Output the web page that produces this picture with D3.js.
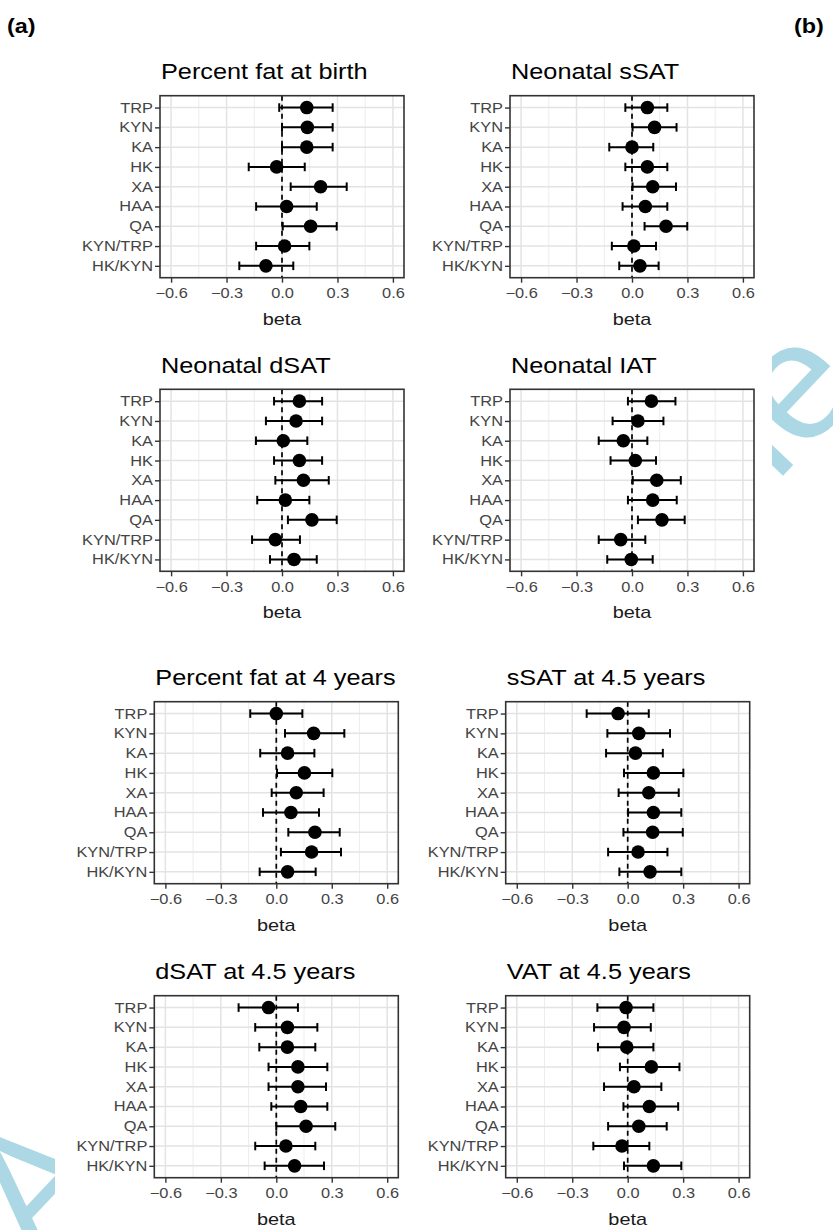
<!DOCTYPE html>
<html>
<head>
<meta charset="utf-8">
<script src="https://cdn.jsdelivr.net/npm/d3@7"></script>
<style>
  body { margin: 0; background: #fff; }
  text { font-family: "Liberation Sans", Arial, sans-serif; }
</style>
</head>
<body>
<div id="chart"></div>
<script>
var metabolites = ["TRP", "KYN", "KA", "HK", "XA", "HAA", "QA", "KYN/TRP", "HK/KYN"];
var xTicks = [-0.6, -0.3, 0, 0.3, 0.6];
var xMinor = [-0.45, -0.15, 0.15, 0.45];

var titles = ["Percent fat at birth", "Neonatal sSAT", "Neonatal dSAT", "Neonatal IAT",
              "Percent fat at 4 years", "sSAT at 4.5 years", "dSAT at 4.5 years", "VAT at 4.5 years"];

var birthEst = [0.134, 0.137, 0.134, -0.029, 0.209, 0.025, 0.155, 0.014, -0.087];
var birthLo  = [-0.015, 0.0, 0.0, -0.18, 0.047, -0.14, 0.004, -0.14, -0.231];
var birthHi  = [0.274, 0.274, 0.274, 0.123, 0.35, 0.188, 0.296, 0.148, 0.061];

var sSatEst = [0.083, 0.122, 0.0, 0.083, 0.112, 0.072, 0.184, 0.01, 0.043];
var sSatLo  = [-0.036, 0.003, -0.123, -0.036, 0.003, -0.051, 0.068, -0.109, -0.069];
var sSatHi  = [0.191, 0.241, 0.115, 0.191, 0.238, 0.191, 0.299, 0.13, 0.144];

var dSatEst = [0.094, 0.076, 0.007, 0.094, 0.116, 0.018, 0.162, -0.036, 0.065];
var dSatLo  = [-0.043, -0.087, -0.141, -0.043, -0.036, -0.134, 0.032, -0.162, -0.065];
var dSatHi  = [0.217, 0.217, 0.137, 0.217, 0.253, 0.148, 0.296, 0.097, 0.188];

var iatEst = [0.105, 0.032, -0.047, 0.018, 0.134, 0.112, 0.162, -0.061, -0.004];
var iatLo  = [-0.022, -0.105, -0.18, -0.116, 0.004, -0.022, 0.032, -0.18, -0.134];
var iatHi  = [0.235, 0.17, 0.083, 0.13, 0.264, 0.242, 0.285, 0.072, 0.112];

var fat4Est = [0.0, 0.202, 0.061, 0.152, 0.108, 0.079, 0.209, 0.191, 0.061];
var fat4Lo  = [-0.141, 0.047, -0.087, 0.004, -0.025, -0.072, 0.065, 0.025, -0.09];
var fat4Hi  = [0.141, 0.368, 0.206, 0.303, 0.256, 0.231, 0.343, 0.35, 0.213];

var sSat45Est = [-0.052, 0.06, 0.042, 0.139, 0.114, 0.139, 0.135, 0.056, 0.121];
var sSat45Lo  = [-0.222, -0.11, -0.117, -0.02, -0.049, 0.002, -0.023, -0.106, -0.045];
var sSat45Hi  = [0.114, 0.229, 0.19, 0.301, 0.276, 0.29, 0.298, 0.215, 0.29];

var dSat45Est = [-0.042, 0.06, 0.06, 0.117, 0.117, 0.132, 0.161, 0.052, 0.099];
var dSat45Lo  = [-0.204, -0.114, -0.092, -0.042, -0.042, -0.027, 0.0, -0.114, -0.063];
var dSat45Hi  = [0.117, 0.222, 0.211, 0.276, 0.269, 0.276, 0.319, 0.211, 0.258];

var vat45Est = [-0.009, -0.02, -0.005, 0.128, 0.034, 0.117, 0.06, -0.031, 0.139];
var vat45Lo  = [-0.164, -0.182, -0.161, -0.042, -0.128, -0.023, -0.106, -0.186, -0.02];
var vat45Hi  = [0.139, 0.125, 0.139, 0.28, 0.182, 0.273, 0.211, 0.117, 0.29];

var estimates = [birthEst, sSatEst, dSatEst, iatEst, fat4Est, sSat45Est, dSat45Est, vat45Est];
var lowers    = [birthLo, sSatLo, dSatLo, iatLo, fat4Lo, sSat45Lo, dSat45Lo, vat45Lo];
var uppers    = [birthHi, sSatHi, dSatHi, iatHi, fat4Hi, sSat45Hi, dSat45Hi, vat45Hi];

// panel top-left corners
var origins = [[160, 95.7], [510, 95.7], [160, 389.3], [510, 389.3],
               [154.3, 701.7], [505.7, 701.7], [154.3, 995.7], [505.7, 995.7]];

var W = 833, H = 1230;
var pw = 244, ph = 182;
var sx = 1.17; // text in the picture is wider than Arial

var svg = d3.select("#chart").append("svg")
  .attr("width", W)
  .attr("height", H);

// watermark, mostly hidden behind the figure
svg.append("text")
  .attr("transform", "translate(36,1263) rotate(-46.5)")
  .attr("font-size", 168)
  .attr("fill", "#acd8e6")
  .text("Accepted Article");

svg.append("rect")
  .attr("x", 55).attr("y", 0)
  .attr("width", 717).attr("height", H)
  .attr("fill", "#fff");

svg.append("text")
  .attr("transform", "translate(7,33) scale(" + sx + ",1)")
  .attr("font-size", 20).attr("font-weight", "bold")
  .text("(a)");

svg.append("text")
  .attr("transform", "translate(794,33) scale(" + sx + ",1)")
  .attr("font-size", 20).attr("font-weight", "bold")
  .text("(b)");

var x = d3.scaleLinear().domain([-0.66, 0.66]).range([0, pw]);
var y = d3.scalePoint().domain(metabolites).range([0, ph]).padding(0.6);

titles.forEach(function(title, p) {
  var g = svg.append("g")
    .attr("transform", "translate(" + origins[p][0] + "," + origins[p][1] + ")");

  var rows = metabolites.map(function(m, i) {
    return { name: m, est: estimates[p][i], lo: lowers[p][i], hi: uppers[p][i] };
  });

  // grid
  g.selectAll(".minor")
    .data(xMinor)
    .enter().append("line")
    .attr("x1", function(d) { return x(d); })
    .attr("x2", function(d) { return x(d); })
    .attr("y1", 0).attr("y2", ph)
    .attr("stroke", "#ebebeb").attr("stroke-width", 0.9);

  g.selectAll(".vmajor")
    .data(xTicks)
    .enter().append("line")
    .attr("x1", function(d) { return x(d); })
    .attr("x2", function(d) { return x(d); })
    .attr("y1", 0).attr("y2", ph)
    .attr("stroke", "#e3e3e3").attr("stroke-width", 1.5);

  g.selectAll(".hmajor")
    .data(metabolites)
    .enter().append("line")
    .attr("x1", 0).attr("x2", pw)
    .attr("y1", function(d) { return y(d); })
    .attr("y2", function(d) { return y(d); })
    .attr("stroke", "#e3e3e3").attr("stroke-width", 1.5);

  // reference line at zero
  g.append("line")
    .attr("x1", x(0)).attr("x2", x(0))
    .attr("y1", 0).attr("y2", ph)
    .attr("stroke", "#000").attr("stroke-width", 1.7)
    .attr("stroke-dasharray", "5,4");

  // error bars
  g.selectAll(".bar")
    .data(rows)
    .enter().append("line")
    .attr("x1", function(d) { return x(d.lo); })
    .attr("x2", function(d) { return x(d.hi); })
    .attr("y1", function(d) { return y(d.name); })
    .attr("y2", function(d) { return y(d.name); })
    .attr("stroke", "#000").attr("stroke-width", 2);

  ["lo", "hi"].forEach(function(k) {
    g.selectAll(".cap-" + k)
      .data(rows)
      .enter().append("line")
      .attr("x1", function(d) { return x(d[k]); })
      .attr("x2", function(d) { return x(d[k]); })
      .attr("y1", function(d) { return y(d.name) - 4.3; })
      .attr("y2", function(d) { return y(d.name) + 4.3; })
      .attr("stroke", "#000").attr("stroke-width", 2);
  });

  g.selectAll("circle")
    .data(rows)
    .enter().append("circle")
    .attr("cx", function(d) { return x(d.est); })
    .attr("cy", function(d) { return y(d.name); })
    .attr("r", 6.8)
    .attr("fill", "#000");

  // panel border
  g.append("rect")
    .attr("width", pw).attr("height", ph)
    .attr("fill", "none")
    .attr("stroke", "#333").attr("stroke-width", 1.6);

  // axes
  var xAxis = d3.axisBottom(x)
    .tickValues(xTicks)
    .tickSize(5)
    .tickPadding(5.7)
    .tickFormat(function(d) { return d3.format(".1f")(d).replace("-", "\u2212"); });

  var yAxis = d3.axisLeft(y).tickSize(5);

  var gx = g.append("g")
    .attr("transform", "translate(0," + ph + ")")
    .call(xAxis);

  var gy = g.append("g").call(yAxis);

  [gx, gy].forEach(function(a) {
    a.select(".domain").remove();
    a.selectAll(".tick line").attr("stroke", "#333").attr("stroke-width", 1.4);
    a.selectAll(".tick text")
      .attr("fill", "#444")
      .attr("font-size", 14)
      .attr("font-family", "Liberation Sans, Arial, sans-serif");
  });

  gx.selectAll(".tick text")
    .attr("transform", "scale(" + sx + ",1)");

  gy.selectAll(".tick text")
    .attr("x", -7 / sx)
    .attr("transform", "scale(" + sx + ",1)");

  g.append("text")
    .attr("transform", "translate(1,-16.4) scale(" + (sx * 1.02) + ",1)")
    .attr("font-size", 21.2)
    .attr("fill", "#000")
    .text(title);

  g.append("text")
    .attr("transform", "translate(" + (pw / 2) + "," + (ph + 47) + ") scale(" + sx + ",1)")
    .attr("text-anchor", "middle")
    .attr("font-size", 17)
    .attr("fill", "#1a1a1a")
    .text("beta");
});
</script>
</body>
</html>
